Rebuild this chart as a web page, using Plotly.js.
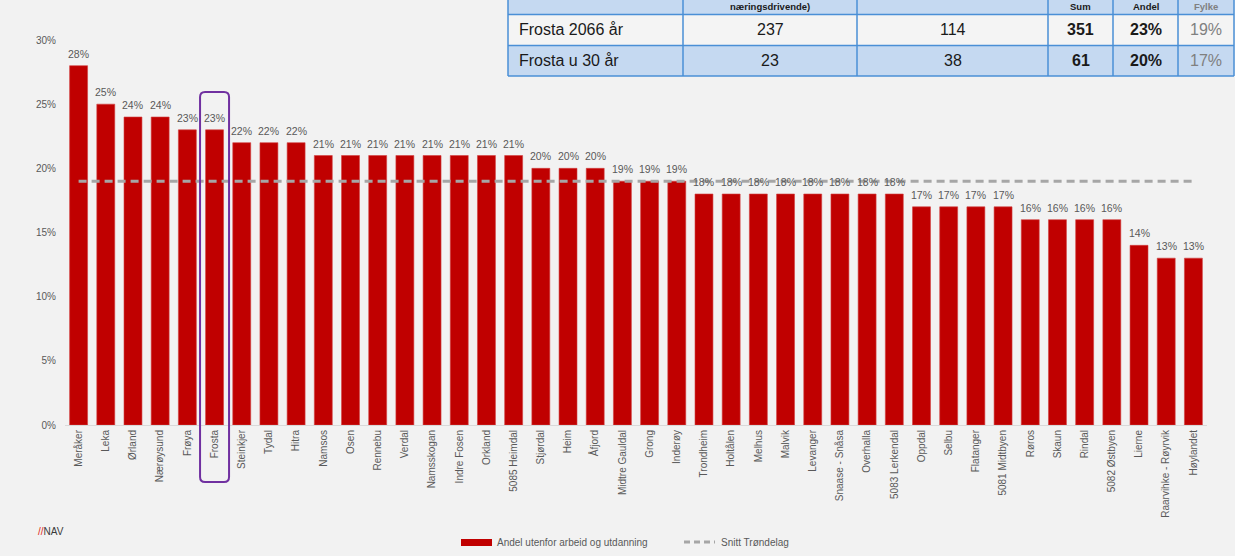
<!DOCTYPE html>
<html><head><meta charset="utf-8">
<script src="https://cdn.plot.ly/plotly-3.0.1.min.js"></script>
<style>html,body{margin:0;padding:0;background:#f2f2f2;overflow:hidden}#chart{width:1235px;height:556px}</style>
</head><body><div id="chart"></div>
<script>
// ---------------- data ----------------
const categories = ['Meråker','Leka','Ørland','Nærøysund','Frøya','Frosta','Steinkjer','Tydal','Hitra','Namsos','Osen','Rennebu','Verdal','Namsskogan','Indre Fosen','Orkland','5085 Heimdal','Stjørdal','Heim','Åfjord','Midtre Gauldal','Grong','Inderøy','Trondheim','Holtålen','Melhus','Malvik','Levanger','Snaase - Snåsa','Overhalla','5083 Lerkendal','Oppdal','Selbu','Flatanger','5081 Midtbyen','Røros','Skaun','Rindal','5082 Østbyen','Lierne','Raarvihke - Røyrvik','Høylandet'];
const values = [28,25,24,24,23,23,22,22,22,21,21,21,21,21,21,21,21,20,20,20,19,19,19,18,18,18,18,18,18,18,18,17,17,17,17,16,16,16,16,14,13,13];
const averageValue = 19;
const barName = 'Andel utenfor arbeid og utdanning';
const averageName = 'Snitt Trøndelag';
const highlighted = 'Frosta';
const yTickValues = [0,5,10,15,20,25,30];
const tableHeader = ['', 'næringsdrivende)', '', 'Sum', 'Andel', 'Fylke'];
const tableRow1 = ['Frosta 2066 år', '237', '114', '351', '23%', '19%'];
const tableRow2 = ['Frosta u 30 år', '23', '38', '61', '20%', '17%'];
const logoSlash = '//';
const logoText = 'NAV';

// ---------------- layout geometry ----------------
const W = 1235, H = 556;
const M = {l: 65, r: 28, t: 40, b: 131};
const PW = W - M.l - M.r, PH = H - M.t - M.b;
const px = x => (x - M.l) / PW;          // pixel x -> paper x
const py = y => (H - M.b - y) / PH;      // pixel y -> paper y
const catW = PW / categories.length;

const grey = '#595959';
const FONT = 'Liberation Sans, Arial, sans-serif';

const avgLine = categories.map(() => averageValue);

const traces = [
  {type: 'bar', x: categories, y: values, name: barName,
   marker: {color: '#c00000', line: {color: '#d24040', width: 0.6}},
   hoverinfo: 'x+y', showlegend: false},
  {type: 'scatter', mode: 'lines', x: categories, y: avgLine, name: averageName,
   line: {color: '#a6a6a6', width: 3, dash: '8px,5px'}, showlegend: false}
];

const shapes = [];
const annotations = [];

// data labels above bars
categories.forEach((c, i) => {
  annotations.push({xref: 'x', yref: 'y', x: c, y: values[i], xanchor: 'center', yanchor: 'bottom',
    yshift: 4, text: values[i] + '%', showarrow: false,
    font: {size: 10.5, color: grey, family: FONT}});
});

// highlight box around selected municipality
(function () {
  const i = categories.indexOf(highlighted);
  const cx = M.l + (i + 0.5) * catW;
  const x0 = px(cx - 14.5), x1 = px(cx + 14.5);
  const y1 = py(92), y0 = py(482);
  const rx = 5 / PW, ry = 5 / PH;
  const path = `M ${x0+rx},${y1} L ${x1-rx},${y1} Q ${x1},${y1} ${x1},${y1-ry} L ${x1},${y0+ry} Q ${x1},${y0} ${x1-rx},${y0} L ${x0+rx},${y0} Q ${x0},${y0} ${x0},${y0+ry} L ${x0},${y1-ry} Q ${x0},${y1} ${x0+rx},${y1} Z`;
  shapes.push({type: 'path', xref: 'paper', yref: 'paper', path: path,
    line: {color: '#7030a0', width: 2}, fillcolor: 'rgba(0,0,0,0)', layer: 'above'});
})();

// custom legend
shapes.push({type: 'rect', xref: 'paper', yref: 'paper', x0: px(461), x1: px(492), y0: py(546), y1: py(539),
  fillcolor: '#c00000', line: {width: 0}});
annotations.push({xref: 'paper', yref: 'paper', x: px(495), y: py(542.5), xanchor: 'left', yanchor: 'middle',
  text: barName, showarrow: false, font: {size: 10, color: grey, family: FONT}});
shapes.push({type: 'line', xref: 'paper', yref: 'paper', x0: px(684), x1: px(715), y0: py(542), y1: py(542),
  line: {color: '#a6a6a6', width: 3, dash: '6px,4px'}});
annotations.push({xref: 'paper', yref: 'paper', x: px(719), y: py(542.5), xanchor: 'left', yanchor: 'middle',
  text: averageName, showarrow: false, font: {size: 10, color: grey, family: FONT}});

// NAV logo
annotations.push({xref: 'paper', yref: 'paper', x: px(36), y: py(531), xanchor: 'left', yanchor: 'middle',
  text: `<span style="color:#e1251b">${logoSlash}</span>${logoText}`, showarrow: false,
  font: {size: 10, color: '#3a3a3a', family: FONT}});

// table at the top right
(function () {
  const colEdges = [508, 683, 857, 1048, 1113, 1178, 1234];
  const rowEdges = [-16, 14.5, 45.5, 76];
  const fills = ['#c5d9f1', '#f4f4f4', '#c5d9f1'];
  const border = '#4a8fd6';
  const rows = [tableHeader, tableRow1, tableRow2];
  rows.forEach((row, r) => {
    shapes.push({type: 'rect', xref: 'paper', yref: 'paper', x0: px(colEdges[0]), x1: px(colEdges[6]),
      y0: py(rowEdges[r+1]), y1: py(rowEdges[r]), fillcolor: fills[r], line: {width: 0}, layer: 'above'});
  });
  rowEdges.forEach(y => shapes.push({type: 'line', xref: 'paper', yref: 'paper', x0: px(colEdges[0]), x1: px(colEdges[6]),
    y0: py(y), y1: py(y), line: {color: border, width: 1.5}, layer: 'above'}));
  colEdges.forEach(x => shapes.push({type: 'line', xref: 'paper', yref: 'paper', x0: px(x), x1: px(x),
    y0: py(rowEdges[3]), y1: py(rowEdges[0]), line: {color: border, width: 1.5}, layer: 'above'}));
  rows.forEach((row, r) => {
    row.forEach((txt, c) => {
      if (!txt) return;
      const header = r === 0;
      const bold = header || c === 3 || c === 4;
      const color = c === 5 ? '#808080' : '#1a1a1a';
      const cy = header ? 6.5 : (rowEdges[r] + rowEdges[r+1]) / 2;
      const left = c === 0;
      const x = left ? px(colEdges[0] + 9) : px((colEdges[c] + colEdges[c+1]) / 2);
      annotations.push({xref: 'paper', yref: 'paper', x: x, y: py(cy), xanchor: left ? 'left' : 'center', yanchor: 'middle',
        text: bold ? `<b>${txt}</b>` : txt, showarrow: false,
        font: {size: header ? 9.5 : 16, color: color, family: FONT}});
    });
  });
})();

const layout = {
  width: W, height: H, margin: M,
  paper_bgcolor: '#f2f2f2', plot_bgcolor: '#f2f2f2',
  showlegend: false, bargap: 0.34,
  font: {family: FONT, color: grey, size: 10},
  xaxis: {type: 'category', tickangle: -90, showgrid: false, showline: true, linecolor: '#d9d9d9', linewidth: 1,
    ticks: '', tickfont: {size: 10, color: grey, family: FONT}, fixedrange: true},
  yaxis: {range: [0, 30], tickvals: yTickValues, ticktext: yTickValues.map(v => v + '%'), showgrid: false,
    zeroline: false, showline: false, ticks: '', ticklabelstandoff: 8,
    tickfont: {size: 10, color: grey, family: FONT}, fixedrange: true},
  shapes: shapes, annotations: annotations
};

Plotly.newPlot('chart', traces, layout, {displayModeBar: false, staticPlot: true});
</script></body></html>
